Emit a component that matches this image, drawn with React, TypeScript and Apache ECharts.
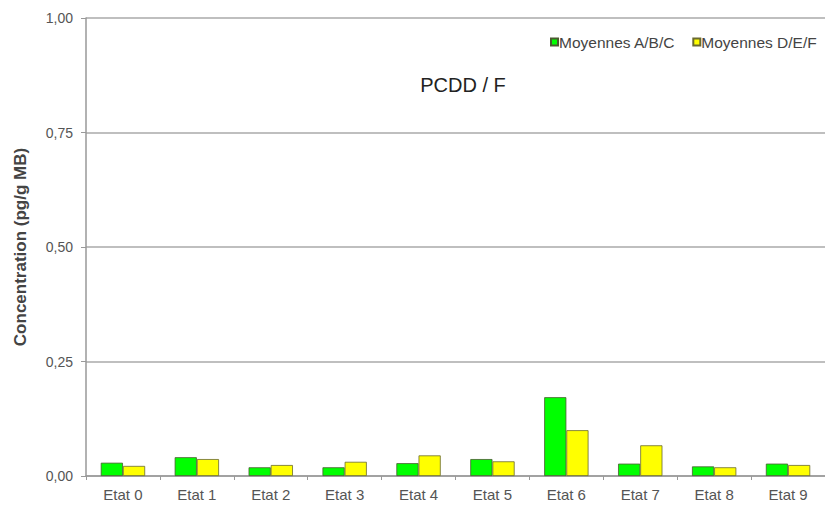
import React, { useEffect, useRef } from "react";
import * as echarts from "echarts";

const categories = ["Etat 0", "Etat 1", "Etat 2", "Etat 3", "Etat 4", "Etat 5", "Etat 6", "Etat 7", "Etat 8", "Etat 9"];
const seriesNames = ["Moyennes A/B/C", "Moyennes D/E/F"];
const valuesABC = [0.029, 0.041, 0.019, 0.019, 0.028, 0.037, 0.172, 0.027, 0.021, 0.027];
const valuesDEF = [0.022, 0.037, 0.024, 0.031, 0.045, 0.032, 0.100, 0.067, 0.019, 0.024];
const titleText = "PCDD / F";
const yAxisName = "Concentration (pg/g MB)";

export default function App() {
  const ref = useRef<HTMLDivElement>(null);
  useEffect(() => {
    if (!ref.current) return;
    const chart = echarts.init(ref.current, null, { renderer: "svg" });
    const font = "'Liberation Sans', Arial, sans-serif";
    chart.setOption({
      animation: false,
      backgroundColor: "#ffffff",
      textStyle: { fontFamily: font },
      title: {
        text: titleText,
        left: 463,
        top: 75,
        textAlign: "center",
        padding: 0,
        textStyle: { fontFamily: font, fontSize: 20, fontWeight: "normal", color: "#222" },
      },
      legend: {
        data: seriesNames,
        left: 550,
        top: 34,
        padding: 0,
        itemWidth: 7,
        itemHeight: 7,
        itemGap: 17,
        icon: "rect",
        textStyle: { fontFamily: font, fontSize: 15.5, color: "#444", padding: [0, 0, 0, -4] },
      },
      grid: { left: 86, right: 0, top: 18, bottom: 30, containLabel: false },
      xAxis: {
        type: "category",
        data: categories,
        axisLine: { lineStyle: { color: "#999", width: 1.5 } },
        axisTick: { show: true, length: 4, lineStyle: { color: "#999" }, alignWithLabel: false },
        axisLabel: { fontFamily: font, fontSize: 15, color: "#555", margin: 11 },
      },
      yAxis: {
        type: "value",
        min: 0,
        max: 1,
        interval: 0.25,
        name: yAxisName,
        nameLocation: "middle",
        nameGap: 57,
        nameTextStyle: { fontFamily: font, fontSize: 17, fontWeight: "bold", color: "#444" },
        axisLine: { show: true, lineStyle: { color: "#999", width: 1.5 } },
        axisTick: { show: true, length: 5, inside: false, lineStyle: { color: "#999" } },
        axisLabel: {
          fontFamily: font,
          fontSize: 14,
          color: "#555",
          margin: 13,
          formatter: (v: number) => v.toFixed(2).replace(".", ","),
        },
        splitLine: { show: true, lineStyle: { color: "#aaa", width: 1.5 } },
      },
      series: [
        {
          name: seriesNames[0],
          type: "bar",
          data: valuesABC,
          barGap: "0%",
          barCategoryGap: "40%",
          itemStyle: { color: "#00ff00", borderColor: "#4a5a30", borderWidth: 0.8 },
        },
        {
          name: seriesNames[1],
          type: "bar",
          data: valuesDEF,
          itemStyle: { color: "#ffff00", borderColor: "#6a6a30", borderWidth: 0.8 },
        },
      ],
    });
    return () => chart.dispose();
  }, []);
  return <div ref={ref} style={{ width: 825, height: 506, position: "absolute", left: 0, top: 0 }} />;
}
